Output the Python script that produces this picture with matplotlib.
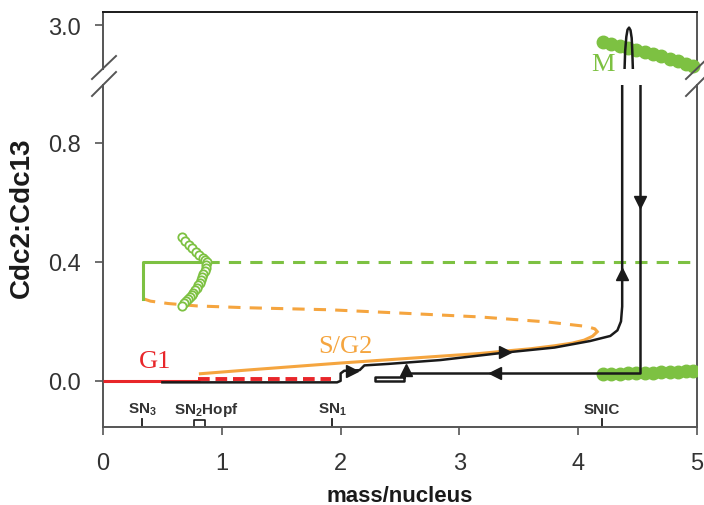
import numpy as np
import matplotlib
matplotlib.use("Agg")
import matplotlib.pyplot as plt
from matplotlib.lines import Line2D

plt.rcParams['font.family'] = ['Liberation Sans', 'DejaVu Sans']
plt.rcParams['mathtext.fontset'] = 'custom'
plt.rcParams['mathtext.rm'] = 'Liberation Sans'
plt.rcParams['mathtext.bf'] = 'Liberation Sans:bold'

RED = '#e8262a'
ORANGE = '#f5a53f'
GREEN = '#7dc142'
BLACK = '#1a1a1a'
GREY = '#333333'

# G1 branch (red)
g1_x = [0.0, 0.82]
g1_y = [0.0, 0.0]
g1_unst_x = [0.80, 1.92]
g1_unst_y = [0.006, 0.006]

# S/G2 branch (orange), stable and unstable parts
sg2_x = [0.82, 1.2, 1.6, 2.0, 2.4, 2.84, 3.17, 3.38, 3.6, 3.8, 3.95, 4.05, 4.12, 4.16]
sg2_y = [0.024, 0.036, 0.048, 0.060, 0.071, 0.083, 0.092, 0.100, 0.108, 0.118, 0.127, 0.137, 0.150, 0.165]
sg2_unst_x = [0.34, 0.40, 0.55, 0.79, 1.2, 1.91, 2.5, 3.17, 3.74, 4.07, 4.14, 4.16]
sg2_unst_y = [0.276, 0.268, 0.260, 0.252, 0.246, 0.239, 0.228, 0.215, 0.198, 0.183, 0.175, 0.165]

# M branch (green)
m_x = [0.34, 0.34, 0.875]
m_y = [0.276, 0.40, 0.40]
m_unst_x = [0.875, 5.0]
m_unst_y = [0.40, 0.40]

# unstable periodic orbits (open circles)
upo_x = [0.665, 0.69, 0.72, 0.75, 0.78, 0.81, 0.84, 0.86, 0.875, 0.87, 0.865, 0.855, 0.845,
         0.835, 0.825, 0.815, 0.80, 0.79, 0.775, 0.76, 0.745, 0.73, 0.715, 0.70, 0.685, 0.665]
upo_y = [0.484, 0.470, 0.458, 0.446, 0.434, 0.423, 0.413, 0.405, 0.398, 0.388, 0.378, 0.368, 0.358,
         0.348, 0.338, 0.330, 0.321, 0.313, 0.305, 0.297, 0.290, 0.282, 0.275, 0.268, 0.261, 0.252]

# stable periodic orbit (filled circles): min and max
spo_x = [4.21, 4.28, 4.35, 4.42, 4.49, 4.56, 4.63, 4.70, 4.77, 4.84, 4.91, 4.97]
spo_min = [0.022, 0.023, 0.024, 0.025, 0.026, 0.027, 0.028, 0.029, 0.030, 0.031, 0.032, 0.033]
spo_max = [2.935, 2.928, 2.921, 2.913, 2.905, 2.896, 2.888, 2.879, 2.870, 2.861, 2.852, 2.843]

# cell cycle trajectory (black)
traj_x = [0.5, 1.97, 2.0, 2.0, 2.03, 2.16, 2.2, 2.4, 2.84, 3.38, 3.8, 4.1, 4.27, 4.33, 4.36, 4.37, 4.37]
traj_y = [-0.005, -0.005, 0.0, 0.025, 0.034, 0.036, 0.052, 0.057, 0.070, 0.095, 0.112, 0.134, 0.151, 0.170, 0.200, 0.250, 1.0]
down_x = [4.52, 4.52, 2.53, 2.53, 2.29, 2.29, 2.53, 2.53]
down_y = [1.0, 0.028, 0.028, 0.013, 0.013, -0.002, -0.002, 0.013]
spike_x = [4.39, 4.395, 4.405, 4.415, 4.428, 4.44, 4.45, 4.455, 4.46]
spike_y = [2.83, 2.90, 2.955, 2.982, 2.99, 2.98, 2.95, 2.90, 2.83]

arrows = [(2.10, 0.034, '>'), (3.38, 0.096, '>'), (4.37, 0.36, '^'),
          (4.52, 0.60, 'v'), (3.30, 0.028, '<'), (2.55, 0.036, '^')]

# bifurcation points
bif_x = [0.33, 1.93, 4.2]
bif_labels = ['SN$_\\mathbf{3}$', 'SN$_\\mathbf{1}$', 'SNIC']

fig = plt.figure(figsize=(7.04, 5.06), dpi=100)
ax = fig.add_axes([0.1463, 0.1542, 0.8438, 0.676])
axt = fig.add_axes([0.1463, 0.8617, 0.8438, 0.1126], sharex=ax)

for a in (ax, axt):
    for s in a.spines.values():
        s.set_color('#555555')
        s.set_linewidth(1.4)
    a.tick_params(direction='out', length=6, width=1.2, color='#555555',
                  labelsize=17, labelcolor=GREY)
    a.tick_params(axis='y', pad=10)
ax.tick_params(axis='x', pad=12)
ax.spines['top'].set_visible(False)
axt.spines['bottom'].set_visible(False)
axt.spines['top'].set_color(BLACK)
axt.tick_params(axis='x', bottom=False, labelbottom=False)

# lower panel
ax.plot(g1_x, g1_y, color=RED, lw=2.2, solid_capstyle='butt', zorder=3)
ax.plot(g1_unst_x, g1_unst_y, color=RED, lw=2.8, dashes=(3, 1.5), zorder=3)
ax.plot(sg2_unst_x, sg2_unst_y, color=ORANGE, lw=2.2, dashes=(4, 3), zorder=2)
ax.plot(m_unst_x, m_unst_y, color=GREEN, lw=2.2, dashes=(4, 3), zorder=2)
ax.plot(m_x, m_y, color=GREEN, lw=2.2, zorder=3)
ax.plot(upo_x, upo_y, 'o', ms=6, mfc='white', mec=GREEN, mew=1.3, ls='none', zorder=4)
ax.plot(sg2_x, sg2_y, color=ORANGE, lw=2.2, zorder=3)
ax.plot(traj_x, traj_y, color=BLACK, lw=1.8, zorder=5)
ax.plot(down_x, down_y, color=BLACK, lw=1.8, zorder=5)
ax.plot(spo_x, spo_min, 'o', ms=9, color=GREEN, mec=GREEN, ls='none', zorder=4)
for x, y, m in arrows:
    ax.plot(x, y, marker=m, ms=8, color=BLACK, zorder=6)

# bifurcation markers
yb = -0.155
for x, lab in zip(bif_x, bif_labels):
    ax.plot([x, x], [yb, yb + 0.027], color=BLACK, lw=1.3)
    ax.text(x, -0.094, lab, ha='center', va='center', fontsize=11,
            fontweight='bold', color=GREY)
ax.plot([0.77, 0.77, 0.855, 0.855], [yb, yb + 0.025, yb + 0.025, yb], color=BLACK, lw=1.2)
ax.text(0.87, -0.094, 'SN$_\\mathbf{2}$Hopf', ha='center', va='center', fontsize=11,
        fontweight='bold', color=GREY)

ax.text(0.44, 0.067, 'G1', color=RED, fontsize=19, family='Liberation Serif',
        ha='center', va='center')
ax.text(2.04, 0.118, 'S/G2', color=ORANGE, fontsize=19, family='Liberation Serif',
        ha='center', va='center')

ax.set_xlim(0, 5)
ax.set_ylim(-0.155, 0.995)
ax.set_xticks([0, 1, 2, 3, 4, 5])
ax.set_yticks([0.0, 0.4, 0.8])
ax.set_yticklabels(['0.0', '0.4', '0.8'])
ax.set_xlabel('mass/nucleus', fontsize=16, fontweight='bold', color=BLACK, labelpad=8)
fig.text(22 / 704, 1 - 218 / 506, 'Cdc2:Cdc13', rotation=90, fontsize=20,
         fontweight='bold', color=BLACK, ha='center', va='center')

# upper panel
axt.plot(spike_x, spike_y, color=BLACK, lw=1.8, zorder=5)
axt.plot(spo_x, spo_max, 'o', ms=9, color=GREEN, mec=GREEN, ls='none', zorder=4, clip_on=False)
axt.text(4.21, 2.85, 'M', color=GREEN, fontsize=19, family='Liberation Serif',
         ha='center', va='center')
axt.set_ylim(2.831, 3.05)
axt.set_yticks([3.0])
axt.set_yticklabels(['3.0'])

# axis break marks
W, H = 704, 506
def brk(x0, y0, x1, y1):
    fig.add_artist(Line2D([x0 / W, x1 / W], [1 - y0 / H, 1 - y1 / H],
                          color='#555555', lw=1.4, transform=fig.transFigure))
for xc in (103, 697):
    brk(xc - 11, 80, xc + 13, 57)
    brk(xc - 11, 97, xc + 13, 73)

fig.savefig('out.png', dpi=100)
